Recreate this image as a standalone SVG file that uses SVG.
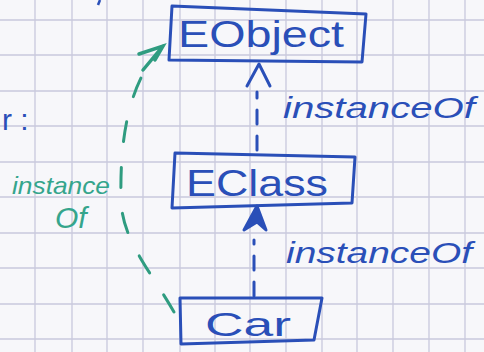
<svg xmlns="http://www.w3.org/2000/svg" width="484" height="352" viewBox="0 0 484 352">
<style>
.grid{stroke:#c9c9dd;stroke-width:1.3}
.box{fill:none;stroke:#2a4fb8;stroke-width:3;stroke-linejoin:round}
.blue{fill:#2a4fb8;font-family:"Liberation Sans",sans-serif}
.lbl{fill:#2a4fb8;font-family:"Liberation Sans",sans-serif;font-style:italic}
.grn{fill:#35a58c;font-family:"Liberation Sans",sans-serif;font-style:italic}
.dash{fill:none;stroke:#2a4fb8;stroke-width:3;stroke-dasharray:14 12;stroke-linecap:round}
.gdash{fill:none;stroke:#2f9c80;stroke-width:3;stroke-dasharray:20 26;stroke-linecap:round}
</style>
<rect width="484" height="352" fill="#f7f7fa"/>
<g id="grid">
<path class="grid" d="M35 0V352M72 0V352M107 0V352M143 0V352M180 0V352M215 0V352M250 0V352M286 0V352M322 0V352M357 0V352M393 0V352M429 0V352M465 0V352"/>
<path class="grid" d="M0 20H484M0 55H484M0 91H484M0 126H484M0 162H484M0 197H484M0 233H484M0 268H484M0 304H484M0 339H484"/>
</g>
<g id="fragment">
<text class="blue" x="2" y="130" font-size="30">r :</text>
<path d="M100 0 L98 5" stroke="#2a4fb8" stroke-width="2.5"/>
</g>
<g id="connectors">
<g id="eclass-eobject">
<path class="dash" d="M257 150 V92"/>
<path d="M247 86 L259 64 L270 86" fill="none" stroke="#2a4fb8" stroke-width="3" stroke-linecap="round" stroke-linejoin="round"/>
</g>
<g id="car-eclass">
<path class="dash" d="M254 296 V240"/>
<path d="M244 230 L257 206 L266 230 L257 222 Z" fill="#2a4fb8" stroke="#2a4fb8" stroke-width="3" stroke-linejoin="round"/>
</g>
<g id="car-eobject">
<path class="gdash" d="M174 312 C150 270 122 240 121 200 C120 150 125 100 150 62"/>
<path d="M143 70 L163 46 M139 54 L163 46 L155 60" fill="none" stroke="#2f9c80" stroke-width="3.5" stroke-linecap="round"/>
</g>
</g>
<g id="labels">
<text class="lbl" x="283" y="118" font-size="30" textLength="192" lengthAdjust="spacingAndGlyphs">instanceOf</text>
<text class="lbl" x="286" y="263" font-size="30" textLength="186" lengthAdjust="spacingAndGlyphs">instanceOf</text>
<text class="grn" x="12" y="194" font-size="24" textLength="98" lengthAdjust="spacingAndGlyphs">instance</text>
<text class="grn" x="55" y="228" font-size="30">Of</text>
</g>
<g id="EObject">
<path class="box" d="M172 6 L366 14 L362 62 L169 60 Z"/>
<text class="blue" x="178" y="47" font-size="36" textLength="166" lengthAdjust="spacingAndGlyphs">EObject</text>
</g>
<g id="EClass">
<path class="box" d="M175 153 L355 157 L352 203 L172 208 Z"/>
<text class="blue" x="186" y="196" font-size="36" textLength="142" lengthAdjust="spacingAndGlyphs">EClass</text>
</g>
<g id="Car">
<path class="box" d="M180 298 L322 298 L314 340 L181 344 Z"/>
<text class="blue" x="205" y="336" font-size="34" textLength="86" lengthAdjust="spacingAndGlyphs">Car</text>
</g>
</svg>
